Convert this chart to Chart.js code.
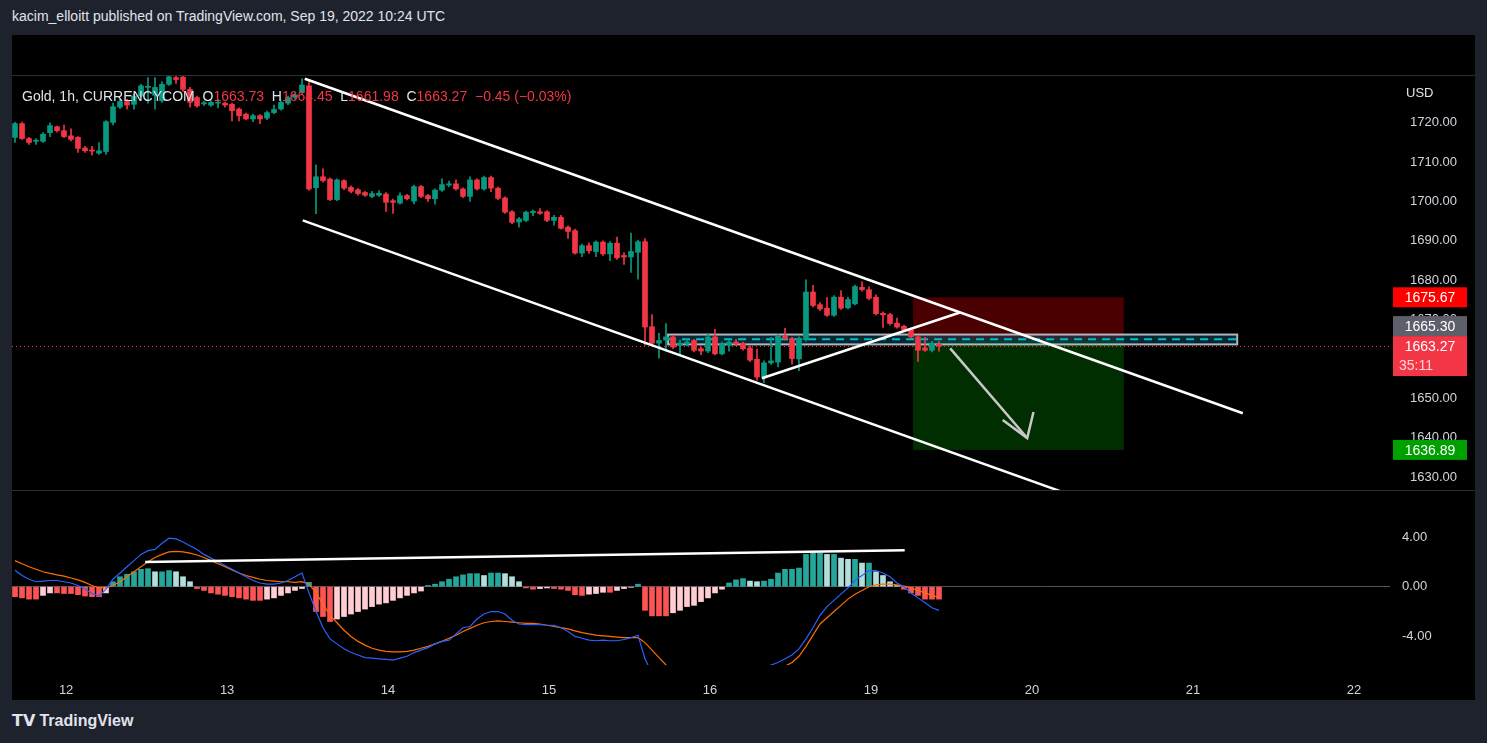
<!DOCTYPE html>
<html>
<head>
<meta charset="utf-8">
<script src="https://cdn.jsdelivr.net/npm/chart.js@4"></script>
<style>
  body { margin: 0; width: 1487px; height: 743px; background: #1e222d; font-family: "Liberation Sans", Arial, sans-serif; overflow: hidden; position: relative; }
  #header { position: absolute; left: 12px; top: 8px; color: #e0e3eb; font-size: 14px; }
  #frame { position: absolute; left: 12px; top: 35px; width: 1463px; height: 665px; background: #000; }
  #topline { position: absolute; left: 12px; top: 75px; width: 1463px; height: 1px; background: #2a2e39; }
  #sepline { position: absolute; left: 12px; top: 490px; width: 1463px; height: 1px; background: #2a2e39; }
  #main { position: absolute; left: 12px; top: 76px; }
  #macd { position: absolute; left: 12px; top: 491px; }
  #legend { position: absolute; left: 22px; top: 88px; color: #e0e3eb; font-size: 14px; white-space: pre; }
  #legend .v { color: #f23645; }
  #usd { position: absolute; left: 1406px; top: 85px; color: #e0e3eb; font-size: 13px; }
  #logo { position: absolute; left: 12px; top: 711px; color: #e0e3eb; font-size: 16px; font-weight: bold; }
</style>
</head>
<body>
<div id="header">kacim_elloitt published on TradingView.com, Sep 19, 2022 10:24 UTC</div>
<div id="frame"></div>
<div id="topline"></div>
<div id="sepline"></div>
<canvas id="main" width="1463" height="414"></canvas>
<canvas id="macd" width="1463" height="209"></canvas>
<div id="legend">Gold, 1h, CURRENCYCOM  O<span class="v">1663.73</span>  H<span class="v">1664.45</span>  L<span class="v">1661.98</span>  C<span class="v">1663.27</span>  <span class="v">−0.45 (−0.03%)</span></div>
<div id="usd">USD</div>
<div id="logo">𝗧𝗩 TradingView</div>
<script>
// --- data ---
const opens = [1716.3,1719.8,1716.0,1715.3,1715.3,1717.5,1719.0,1718.0,1716.7,1716.3,1713.6,1713.1,1712.3,1712.7,1720.1,1724.0,1725.4,1724.7,1726.8,1729.0,
 1727.0,1725.6,1729.8,1731.5,1731.6,1728.5,1726.4,1724.8,1724.5,1725.0,1725.0,1724.7,1723.5,1722.2,1721.0,1721.8,1721.2,1722.6,1723.5,1725.0,
 1726.5,1727.7,1729.4,1703.5,1706.3,1705.7,1700.5,1705.3,1703.6,1703.0,1702.3,1701.3,1701.6,1701.9,1700.2,1699.6,1701.5,1700.1,1703.8,1701.5,
 1700.7,1702.9,1704.2,1704.5,1703.2,1701.3,1705.5,1703.2,1706.1,1703.4,1700.9,1697.4,1694.8,1695.2,1697.2,1697.4,1697.4,1695.2,1696.0,1693.5,
 1692.6,1686.9,1688.8,1687.3,1689.7,1686.7,1689.4,1686.3,1685.9,1687.1,1689.8,1668.2,1664.0,1664.8,1665.6,1663.5,1663.8,1664.7,1662.6,1662.0,
 1665.6,1661.3,1663.5,1664.3,1664.0,1662.8,1659.9,1655.4,1659.0,1659.2,1665.8,1665.2,1660.0,1664.9,1677.0,1673.8,1672.9,1671.1,1675.7,1673.0,
 1674.0,1678.2,1677.6,1675.7,1671.6,1671.3,1669.1,1668.3,1667.4,1665.6,1662.8,1662.2,1663.73];
const closes = [1719.8,1716.0,1715.0,1715.6,1717.1,1719.3,1718.0,1716.5,1715.8,1713.5,1712.9,1712.8,1712.9,1720.3,1724.1,1725.4,1724.5,1726.8,1729.4,1729.3,
 1729.0,1729.8,1731.7,1731.0,1728.5,1725.2,1724.3,1725.1,1725.2,1725.2,1724.5,1723.1,1721.8,1721.0,1721.8,1721.0,1722.6,1723.4,1725.2,1726.4,
 1727.1,1729.6,1703.2,1706.3,1705.3,1700.5,1705.5,1703.4,1702.6,1702.0,1701.6,1702.0,1702.1,1699.8,1699.8,1701.5,1700.7,1703.8,1701.3,1700.7,
 1702.9,1704.3,1704.5,1703.2,1701.3,1705.5,1703.2,1706.1,1703.4,1700.8,1697.3,1694.7,1695.6,1697.3,1697.5,1697.0,1695.2,1696.0,1693.2,1692.4,
 1686.9,1688.8,1687.5,1689.7,1686.7,1689.4,1685.7,1685.9,1687.3,1689.8,1668.1,1664.0,1664.7,1665.6,1663.0,1664.0,1664.3,1662.2,1662.0,1665.6,
 1661.3,1663.9,1664.3,1663.8,1662.6,1659.7,1655.4,1659.0,1659.5,1665.8,1665.2,1660.1,1665.2,1677.0,1673.6,1672.7,1671.1,1675.7,1672.9,1675.1,
 1678.4,1677.6,1675.4,1671.5,1671.2,1669.0,1668.1,1667.4,1665.6,1662.2,1662.2,1663.9,1663.27];
const highs = [1720.1,1720.2,1716.3,1716.0,1717.5,1720.0,1719.2,1719.4,1718.5,1716.5,1714.0,1714.0,1715.0,1720.6,1725.0,1726.0,1726.0,1727.3,1729.8,1731.5,
 1731.5,1730.5,1732.5,1732.5,1732.0,1729.0,1726.8,1725.5,1725.6,1726.0,1725.3,1725.0,1723.8,1722.5,1722.2,1722.1,1723.0,1724.5,1725.6,1726.8,
 1727.6,1731.2,1730.5,1709.3,1708.3,1706.0,1705.8,1705.6,1704.0,1703.3,1702.6,1702.6,1702.8,1702.3,1700.6,1702.2,1701.8,1704.2,1704.1,1701.8,
 1703.2,1705.8,1705.2,1705.5,1703.5,1706.3,1705.8,1706.5,1706.5,1703.7,1701.2,1697.7,1696.0,1697.6,1697.8,1698.2,1697.7,1696.5,1696.5,1693.8,
 1693.0,1689.2,1689.5,1690.0,1690.0,1689.8,1691.0,1687.0,1692.0,1690.2,1690.6,1671.3,1666.5,1669.0,1666.0,1664.8,1665.0,1665.0,1663.0,1666.3,
 1667.5,1664.3,1664.7,1665.0,1664.3,1663.2,1662.5,1659.5,1665.5,1666.2,1667.8,1665.5,1665.6,1680.1,1678.7,1674.3,1675.6,1676.1,1677.4,1675.7,
 1678.8,1679.6,1678.3,1676.3,1672.0,1671.6,1670.4,1668.6,1667.7,1665.9,1665.5,1664.5,1664.45];
const lows = [1715.0,1715.8,1714.5,1714.5,1715.0,1716.5,1717.6,1716.2,1715.4,1712.5,1712.5,1711.8,1712.0,1712.0,1719.5,1723.6,1723.5,1723.5,1726.5,1725.0,
 1723.5,1725.2,1729.5,1730.0,1728.0,1724.0,1724.0,1724.4,1724.2,1723.8,1724.0,1720.5,1720.5,1720.8,1720.3,1719.8,1720.8,1722.3,1723.2,1724.6,
 1726.1,1727.4,1702.8,1696.9,1704.9,1700.2,1700.2,1703.0,1702.2,1701.6,1701.3,1701.0,1701.3,1697.5,1697.0,1699.3,1700.4,1699.4,1701.0,1700.0,
 1699.3,1702.6,1703.8,1702.9,1701.0,1700.0,1702.9,1702.9,1702.5,1700.5,1697.0,1694.4,1693.5,1694.9,1696.4,1696.7,1694.9,1694.0,1693.0,1690.6,
 1686.6,1686.0,1686.8,1686.0,1686.3,1685.0,1685.3,1684.0,1682.0,1680.3,1663.5,1663.6,1660.2,1662.0,1662.6,1661.0,1663.3,1661.8,1661.1,1661.6,
 1661.0,1661.0,1662.0,1663.4,1662.2,1659.3,1654.6,1654.0,1658.6,1658.0,1664.8,1658.7,1657.0,1664.5,1673.2,1672.3,1670.8,1670.8,1672.6,1672.7,
 1673.7,1677.2,1675.0,1671.2,1668.0,1668.6,1667.8,1667.1,1665.3,1659.4,1661.9,1661.8,1661.98];

const histogram = [-0.8,-0.9,-1.0,-1.0,-0.7,-0.5,-0.5,-0.55,-0.55,-0.65,-0.75,-0.8,-0.8,-0.5,
 0.4,0.8,1.0,1.2,1.4,1.45,1.2,1.2,1.3,1.2,0.8,0.4,
 -0.15,-0.3,-0.5,-0.6,-0.7,-0.8,-0.9,-1.0,-1.1,-1.1,-1.0,-0.9,-0.7,-0.5,-0.3,-0.15,
 0.35,
 -2.0,-2.4,-2.8,-2.6,-2.4,-2.2,-2.0,-1.8,-1.6,-1.4,-1.3,-1.1,-0.9,-0.7,-0.5,-0.35,
 0.1,0.2,0.4,0.6,0.8,0.95,1.05,1.05,0.9,1.1,1.1,1.05,0.8,0.4,
 -0.1,-0.2,-0.15,-0.1,-0.15,-0.2,-0.3,-0.65,-0.7,-0.6,-0.55,-0.45,-0.45,-0.3,-0.15,-0.05,
 0.2,
 -1.9,-2.35,-2.35,-2.35,-2.1,-1.9,-1.6,-1.5,-1.2,-0.9,-0.5,-0.2,
 0.3,0.55,0.65,0.45,0.4,0.45,0.6,1.1,1.4,1.4,1.5,2.6,2.7,2.7,2.6,2.6,2.3,2.2,2.2,1.9,1.9,1.2,0.9,0.4,0.1,
 -0.2,-0.5,-0.7,-1.0,-1.0,-1.0];
const macdLine = [1.33,0.9,0.6,0.4,0.45,0.5,0.5,0.4,0.3,0.1,-0.2,-0.55,-0.75,-0.2,0.6,1.1,1.6,2.1,2.6,2.9,
 3.0,3.5,3.9,3.85,3.6,3.3,3.0,2.6,2.3,2.0,1.7,1.4,1.1,0.8,0.5,0.3,0.2,0.2,0.3,0.5,
 0.8,1.1,-0.5,-2.0,-3.3,-4.2,-4.6,-5.0,-5.3,-5.5,-5.7,-5.75,-5.8,-5.85,-5.9,-5.75,-5.6,-5.3,-5.1,-4.9,
 -4.6,-4.4,-4.3,-3.8,-3.3,-3.2,-2.6,-2.2,-2.0,-2.0,-2.2,-2.7,-3.0,-3.05,-3.05,-3.05,-3.1,-3.1,-3.3,-3.6,
 -4.0,-4.15,-4.3,-4.35,-4.3,-4.35,-4.35,-4.25,-4.1,-3.9,-5.8,-7.0,-8.0,-9.0,-9.6,-10.0,-10.2,-10.3,-10.2,-10.0,
 -9.7,-9.3,-8.8,-8.2,-7.7,-7.2,-6.8,-6.5,-6.3,-6.1,-5.8,-5.5,-5.0,-4.2,-3.3,-2.3,-1.6,-1.1,-0.6,-0.1,
 0.5,0.9,1.3,1.3,1.1,0.8,0.3,0.0,-0.5,-0.9,-1.3,-1.7,-1.9];
const signalLine = [2.1,1.85,1.6,1.4,1.2,1.07,0.95,0.85,0.7,0.55,0.35,0.1,-0.1,-0.1,0.1,0.4,0.8,1.2,1.6,2.0,
 2.35,2.6,2.8,2.85,2.8,2.7,2.55,2.35,2.1,1.85,1.6,1.35,1.1,0.9,0.75,0.6,0.5,0.45,0.4,0.4,
 0.35,0.4,0.2,-0.5,-1.4,-2.3,-2.9,-3.5,-4.0,-4.4,-4.7,-4.95,-5.1,-5.2,-5.25,-5.25,-5.2,-5.1,-4.95,-4.8,
 -4.6,-4.4,-4.15,-3.9,-3.6,-3.35,-3.1,-2.9,-2.8,-2.75,-2.8,-2.85,-2.9,-2.95,-2.95,-3.0,-3.1,-3.2,-3.3,-3.4,
 -3.55,-3.7,-3.8,-3.9,-3.95,-4.0,-4.05,-4.1,-4.1,-4.1,-4.5,-5.1,-5.7,-6.3,-6.8,-7.3,-7.7,-8.0,-8.2,-8.4,
 -8.5,-8.5,-8.4,-8.3,-8.1,-7.9,-7.6,-7.3,-7.0,-6.7,-6.4,-6.1,-5.6,-4.8,-3.9,-3.0,-2.5,-2.0,-1.5,-1.0,
 -0.6,-0.3,0.0,0.15,0.2,0.2,0.15,0.05,-0.1,-0.3,-0.5,-0.7,-0.85];

// time axis: bar index of each day label
const dayTicks = [7.3, 30.3, 53.3, 76.3, 99.3, 122.3, 145.3, 168.3, 191.3];
const dayLabels = ['12', '13', '14', '15', '16', '19', '20', '21', '22'];
const priceTicks = [1720, 1710, 1700, 1690, 1680, 1670, 1650, 1640, 1630];
const macdTicks = [4, 0, -4];

// drawings, in [bar index, price]
const upperChannel = [[41.4, 1731.2], [175.4, 1646.2]];
const lowerChannel = [[41.1, 1695.2], [160.0, 1619.6]];
const risingLine = [[106.7, 1655.1], [135.0, 1671.8]];
const arrowShaft = [[133.6, 1662.7], [144.6, 1639.9]];
const arrowHead = [[141.1, 1644.5], [144.6, 1639.9], [145.5, 1646.5]];
const macdTrend = [[18.6, 1.98], [127.1, 2.94]];
const zone = { x0: 93.3, x1: 174.6, lo: 1663.7, hi: 1666.2, mid: 1665.0 };
const position = { x0: 128.3, x1: 158.4, stop: 1675.67, entry: 1664.7, target: 1636.89 };
const lastPrice = 1663.27;
const priceTags = [
  { price: 1675.67, text: '1675.67', bg: '#ff0000', shift: 0 },
  { price: 1665.30, text: '1665.30', bg: '#5d606b', shift: -12 },
  { price: 1663.27, text: '1663.27', sub: '35:11', bg: '#f23645', shift: 0 },
  { price: 1636.89, text: '1636.89', bg: '#00a000', shift: 0 },
];

const UP = '#089981', DOWN = '#f23645';
const FONT = { family: 'Liberation Sans', size: 13 };
const X_MIN = -0.43, X_MAX = 196.43;
const AXIS_W = 85;

const idx = opens.map((_, i) => i);
const candleColors = idx.map(i => closes[i] >= opens[i] ? UP : DOWN);
const line = (pts, color, width) => ({
  type: 'line', data: pts.map(p => ({ x: p[0], y: p[1] })), borderColor: color,
  borderWidth: width, pointRadius: 0, tension: 0, order: 0
});
// no label padding: the plot area must fill the canvas
const noPad = s => { s.paddingTop = 0; s.paddingBottom = 0; s.paddingLeft = 0; s.paddingRight = 0; };

// background boxes + last price line + price tags
const mainDecor = {
  id: 'mainDecor',
  beforeDatasetsDraw(chart) {
    const { ctx, chartArea: a, scales: { x, y } } = chart;
    ctx.save();
    ctx.beginPath(); ctx.rect(a.left, a.top, a.right - a.left, a.bottom - a.top); ctx.clip();
    const px0 = x.getPixelForValue(position.x0), px1 = x.getPixelForValue(position.x1);
    ctx.fillStyle = '#4a0000';
    ctx.fillRect(px0, y.getPixelForValue(position.stop), px1 - px0, y.getPixelForValue(position.entry) - y.getPixelForValue(position.stop));
    ctx.fillStyle = '#002e00';
    ctx.fillRect(px0, y.getPixelForValue(position.entry), px1 - px0, y.getPixelForValue(position.target) - y.getPixelForValue(position.entry));
    const zx0 = x.getPixelForValue(zone.x0), zx1 = x.getPixelForValue(zone.x1);
    const zy0 = y.getPixelForValue(zone.hi), zy1 = y.getPixelForValue(zone.lo);
    ctx.fillStyle = 'rgba(0,90,110,0.45)';
    ctx.fillRect(zx0, zy0, zx1 - zx0, zy1 - zy0);
    ctx.strokeStyle = '#b2b5be'; ctx.lineWidth = 2;
    ctx.strokeRect(zx0, zy0, zx1 - zx0, zy1 - zy0);
    ctx.strokeStyle = '#00bcd4'; ctx.setLineDash([8, 6]);
    ctx.beginPath(); ctx.moveTo(zx0, y.getPixelForValue(zone.mid)); ctx.lineTo(zx1, y.getPixelForValue(zone.mid)); ctx.stroke();
    ctx.strokeStyle = '#f23645'; ctx.lineWidth = 1; ctx.setLineDash([1, 3]);
    const ly = Math.round(y.getPixelForValue(lastPrice)) + 0.5;
    ctx.beginPath(); ctx.moveTo(a.left, ly); ctx.lineTo(a.right, ly); ctx.stroke();
    ctx.restore();
  },
  afterDraw(chart) {
    const { ctx, chartArea: a, scales: { y } } = chart;
    ctx.save();
    ctx.font = '14px "Liberation Sans"'; ctx.textAlign = 'center'; ctx.textBaseline = 'middle';
    priceTags.forEach(t => {
      const cy = y.getPixelForValue(t.price) + t.shift;
      const h = t.sub ? 40 : 20;
      ctx.fillStyle = t.bg;
      ctx.fillRect(a.right + 3, cy - 10, 74, h);
      ctx.fillStyle = '#ffffff';
      ctx.fillText(t.text, a.right + 40, cy + 1);
      if (t.sub) { ctx.fillStyle = '#ffd6da'; ctx.fillText(t.sub, a.right + 26, cy + 20); }
    });
    ctx.restore();
  }
};

new Chart(document.getElementById('main'), {
  type: 'bar',
  data: {
    datasets: [
      { data: idx.map(i => ({ x: i, y: [lows[i], highs[i]] })), backgroundColor: candleColors, barThickness: 1, grouped: false, order: 2 },
      { data: idx.map(i => ({ x: i, y: [opens[i], closes[i]] })), backgroundColor: candleColors, barThickness: 5, grouped: false, order: 1, minBarLength: 1 },
      line(upperChannel, '#ffffff', 2.5),
      line(lowerChannel, '#ffffff', 2.5),
      line(risingLine, '#ffffff', 2.5),
      line(arrowShaft, '#c8c8c8', 2.5),
      line(arrowHead, '#c8c8c8', 2.5),
    ]
  },
  options: {
    responsive: false, animation: false,
    layout: { padding: 0 },
    plugins: { legend: { display: false }, tooltip: { enabled: false } },
    scales: {
      x: { type: 'linear', min: X_MIN, max: X_MAX, display: false, offset: false },
      y: {
        position: 'right', min: 1626.7, max: 1731.9,
        afterFit: s => { s.width = AXIS_W; noPad(s); },
        grid: { display: false }, border: { display: false },
        afterBuildTicks: s => { s.ticks = priceTicks.map(v => ({ value: v })); },
        ticks: { color: '#d1d4dc', font: FONT, padding: 12, callback: v => v.toFixed(2) }
      }
    }
  },
  plugins: [mainDecor]
});

const histColors = histogram.map((v, i) => {
  const prev = i > 0 ? histogram[i - 1] : v;
  if (v >= 0) return v >= prev ? '#26a69a' : '#b2dfdb';
  return v <= prev ? '#ff5252' : '#ffcdd2';
});

new Chart(document.getElementById('macd'), {
  type: 'bar',
  data: {
    datasets: [
      { data: idx.map(i => ({ x: i, y: histogram[i] })), backgroundColor: histColors, barThickness: 5, order: 3 },
      { type: 'line', data: idx.map(i => ({ x: i, y: macdLine[i] })), borderColor: '#2962ff', borderWidth: 1.2, pointRadius: 0, order: 1 },
      { type: 'line', data: idx.map(i => ({ x: i, y: signalLine[i] })), borderColor: '#ff6d00', borderWidth: 1.2, pointRadius: 0, order: 2 },
      line(macdTrend, '#ffffff', 2.5),
    ]
  },
  options: {
    responsive: false, animation: false,
    layout: { padding: 0 },
    plugins: { legend: { display: false }, tooltip: { enabled: false } },
    scales: {
      x: {
        type: 'linear', min: X_MIN, max: X_MAX, offset: false,
        afterFit: s => { s.height = 35; noPad(s); },
        afterBuildTicks: s => { s.ticks = dayTicks.map(v => ({ value: v })); },
        grid: { display: false }, border: { display: false },
        ticks: { color: '#d1d4dc', font: FONT, padding: 10, maxRotation: 0, autoSkip: false,
          callback: v => dayLabels[dayTicks.indexOf(v)] }
      },
      y: {
        position: 'right', min: -6.3, max: 7.7,
        afterFit: s => { s.width = AXIS_W; noPad(s); },
        afterBuildTicks: s => { s.ticks = macdTicks.map(v => ({ value: v })); },
        border: { display: false },
        grid: { color: c => c.tick && c.tick.value === 0 ? '#50535e' : 'transparent', drawTicks: false },
        ticks: { color: '#d1d4dc', font: FONT, padding: 12, callback: v => v.toFixed(2) }
      }
    }
  }
});
</script>
</body>
</html>
